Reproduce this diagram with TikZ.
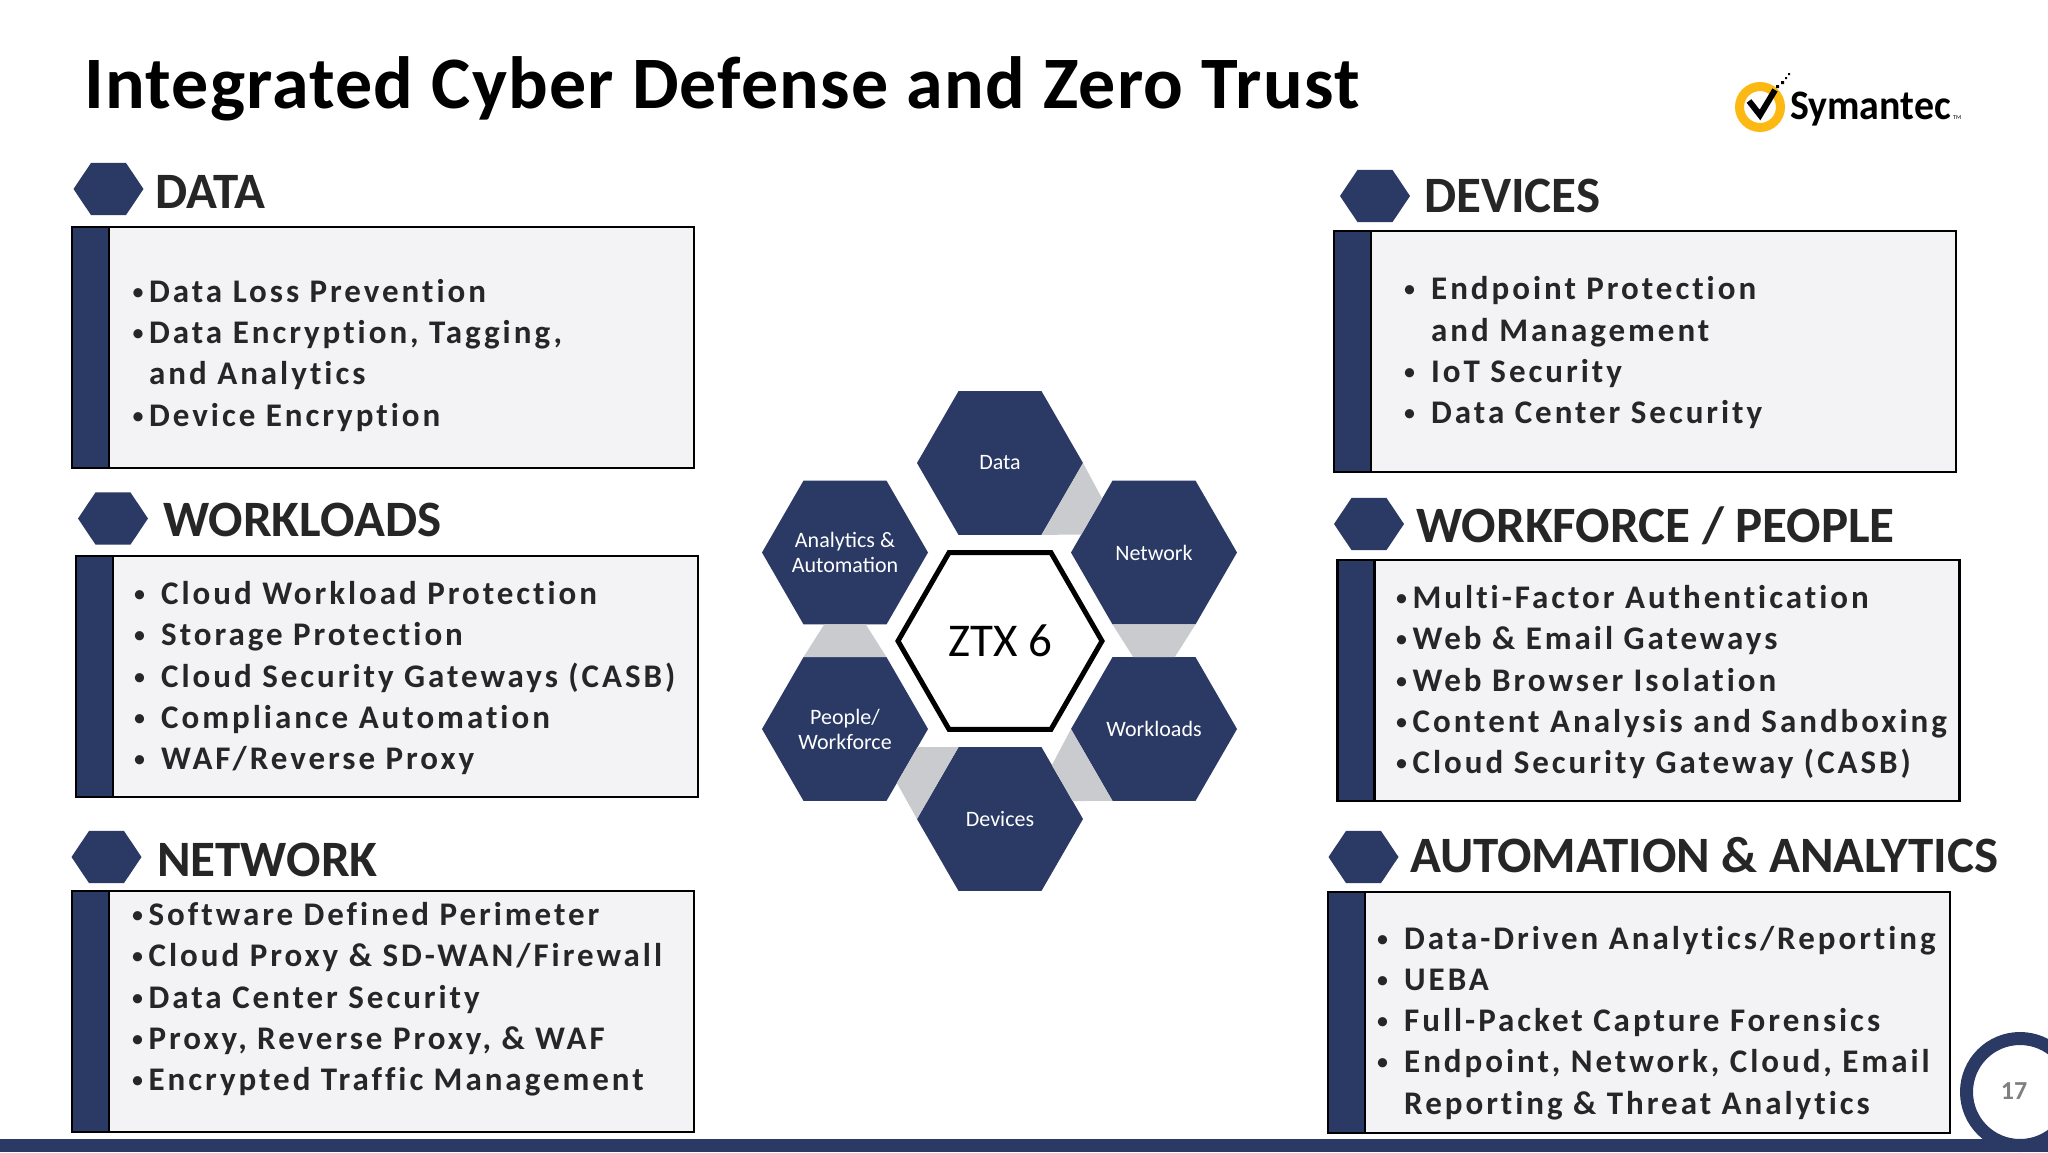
\documentclass[tikz,border=0pt]{standalone}
\usepackage{fontspec}
\setmainfont{Carlito}
\newfontfamily\listfont[LetterSpace=9,Ligatures=NoCommon]{Carlito}
\newfontfamily\titlefont[LetterSpace=1.7]{Carlito}
\usetikzlibrary{shapes.geometric, calc, positioning}

\definecolor{navy}{HTML}{2A3A64}
\definecolor{linkgray}{HTML}{C9CBCE}
\definecolor{panelgray}{HTML}{F3F3F6}
\definecolor{inkgray}{HTML}{262626}
\definecolor{ringyellow}{HTML}{FDB913}

\newcommand{\fs}[2]{\fontsize{#1}{#2}\selectfont}
\newcommand{\blt}[1]{\makebox[#1pt][l]{\raisebox{2pt}{\normalfont\fs{26}{26}\textbullet}}}

\tikzset{
    hex/.style={regular polygon, regular polygon sides=6, minimum size=166, inner sep=-15, outer sep=0,
        fill=navy, text=white, align=center, font=\fs{22}{25}},
    minihex/.style={regular polygon, regular polygon sides=6, minimum size=70, inner sep=0, outer sep=0,
        fill=navy, yscale=0.86, transform shape},
    link/.style={fill=linkgray},
    panel/.style={anchor=north west, draw=black, line width=2.5, fill=panelgray, minimum width=622,
        minimum height=241, inner sep=0, outer sep=0},
    bar/.style={anchor=north west, draw=black, line width=2.5, fill=navy, minimum width=37,
        minimum height=241, inner sep=0, outer sep=0},
    heading/.style={anchor=base west, inner sep=0, text=inkgray, font=\fs{51}{51}\bfseries},
    items/.style={anchor=base west, inner sep=0, text=inkgray, align=left, font=\listfont\fs{33}{41.2}\bfseries},
}

\begin{document}
\begin{tikzpicture}[x=1pt, y=-1pt]
    \path[use as bounding box, clip] (0,0) rectangle (2048,1152);
    \fill[white] (0,0) rectangle (2048,1152);

    \path (84,108) node[anchor=base west, inner sep=0, font=\titlefont\fs{74}{74}\bfseries] (title) {Integrated Cyber Defense and Zero Trust};

    % logo
    \path (1760,107) node[circle, draw=ringyellow, line width=9, minimum size=41, inner sep=0] (ring) {};
    \draw[line width=6] (1749,101) -- (1760,115) -- (1775,90);
    \fill (1776,88) rectangle +(3,-3) (1781,84) rectangle +(3,-3) (1785,79) rectangle +(2,-2) (1788,75) rectangle +(2,-2);
    \path (1790,119) node[anchor=base west, inner sep=0, xscale=0.95, transform shape, font=\fs{42}{42}\bfseries] (logo) {Symantec};
    \path (1953,119) node[anchor=base west, inner sep=0, font=\fs{6}{6}] (tm) {TM};

    % left column
    \path (108.5,189) node[minihex] (dataHex) {};
    \path (155,208) node[heading] (dataHead) {DATA};
    \path (72,227) node[panel] (dataBox) {};
    \path (72,227) node[bar] (dataBar) {};
    \path (131.5,426) node[items] (dataList) {\blt{17.5}Data Loss Prevention\\\blt{17.5}Data Encryption, Tagging,\\\hspace*{17.5pt}and Analytics\\\blt{17.5}Device Encryption};

    \path (113,518.5) node[minihex] (loadHex) {};
    \path (163,536) node[heading] (loadHead) {WORKLOADS};
    \path (76,556) node[panel] (loadBox) {};
    \path (76,556) node[bar] (loadBar) {};
    \path (133,769.5) node[items] (loadList) {\blt{28}Cloud Workload Protection\\\blt{28}Storage Protection\\\blt{28}Cloud Security Gateways (CASB)\\\blt{28}Compliance Automation\\\blt{28}WAF/Reverse Proxy};

    \path (106.5,857) node[minihex] (netHex) {};
    \path (157,876) node[heading] (netHead) {NETWORK};
    \path (72,891) node[panel] (netBox) {};
    \path (72,891) node[bar] (netBar) {};
    \path (131,1090.5) node[items] (netList) {\blt{17.5}Software Defined Perimeter\\\blt{17.5}Cloud Proxy \& SD-WAN/Firewall\\\blt{17.5}Data Center Security\\\blt{17.5}Proxy, Reverse Proxy, \& WAF\\\blt{17.5}Encrypted Traffic Management};

    % right column
    \path (1375,196) node[minihex] (devHex) {};
    \path (1424,212) node[heading] (devHead) {DEVICES};
    \path (1334,231) node[panel] (devBox) {};
    \path (1334,231) node[bar] (devBar) {};
    \path (1403,423.5) node[items] (devList) {\blt{28}Endpoint Protection\\\hspace*{28pt}and Management\\\blt{28}IoT Security\\\blt{28}Data Center Security};

    \path (1369,524) node[minihex] (peopleHex) {};
    \path (1416,542) node[heading] (peopleHead) {WORKFORCE / PEOPLE};
    \path (1337.5,560) node[panel] (peopleBox) {};
    \path (1337.5,560) node[bar] (peopleBar) {};
    \path (1395,773.5) node[items] (peopleList) {\blt{17.5}Multi-Factor Authentication\\\blt{17.5}Web \& Email Gateways\\\blt{17.5}Web Browser Isolation\\\blt{17.5}Content Analysis and Sandboxing\\\blt{17.5}Cloud Security Gateway (CASB)};

    \path (1363.5,857) node[minihex] (autoHex) {};
    \path (1410,872) node[heading] (autoHead) {AUTOMATION \& ANALYTICS};
    \path (1328,892) node[panel] (autoBox) {};
    \path (1328,892) node[bar] (autoBar) {};
    \path (1376,1114) node[items] (autoList) {\blt{28}Data-Driven Analytics/Reporting\\\blt{28}UEBA\\\blt{28}Full-Packet Capture Forensics\\\blt{28}Endpoint, Network, Cloud, Email\\\hspace*{28pt}Reporting \& Threat Analytics};

    % centre
    \path (1000,463) node[hex] (data) {Data};
    \path (1154,552.5) node[hex] (network) {Network};
    \path (1154,729) node[hex] (workloads) {Workloads};
    \path (1000,819) node[hex] (devices) {Devices};
    \path (845,729) node[hex] (people) {People/\\Workforce};
    \path (845,552.5) node[hex] (analytics) {Analytics \&\\Automation};
    \path (1000,641) node[regular polygon, regular polygon sides=6, minimum size=204, inner sep=0, outer sep=0,
        draw=black, line width=5, font=\fs{47}{47}] (ztx) {ZTX 6};

    \fill[link] (data.corner 6) -- ($(network.corner 2)!.25!(network.corner 3)$) -- ($(network.corner 2)!.75!(network.corner 3)$) -- (data.corner 5) -- cycle;
    \fill[link] (network.corner 4) -- (network.corner 5) -- ($(workloads.corner 1)!.25!(workloads.corner 2)$) -- ($(workloads.corner 1)!.75!(workloads.corner 2)$) -- cycle;
    \fill[link] (workloads.corner 3) -- (workloads.corner 4) -- ($(devices.corner 1)!.75!(devices.corner 6)$) -- ($(devices.corner 1)!.25!(devices.corner 6)$) -- cycle;
    \fill[link] (devices.corner 2) -- (devices.corner 3) -- ($(people.corner 6)!.75!(people.corner 5)$) -- ($(people.corner 6)!.25!(people.corner 5)$) -- cycle;
    \fill[link] (people.corner 2) -- (people.corner 1) -- ($(analytics.corner 5)!.25!(analytics.corner 4)$) -- ($(analytics.corner 5)!.75!(analytics.corner 4)$) -- cycle;

    % page number
    \path (2020,1092) node[circle, draw=navy, line width=13, minimum size=107, inner sep=0] (ring17) {};
    \fill[navy] (0,1139) rectangle (2048,1152);
    \path (2014,1091) node[text=gray, inner sep=0, font=\fs{26}{26}\bfseries] (page) {17};
\end{tikzpicture}
\end{document}
